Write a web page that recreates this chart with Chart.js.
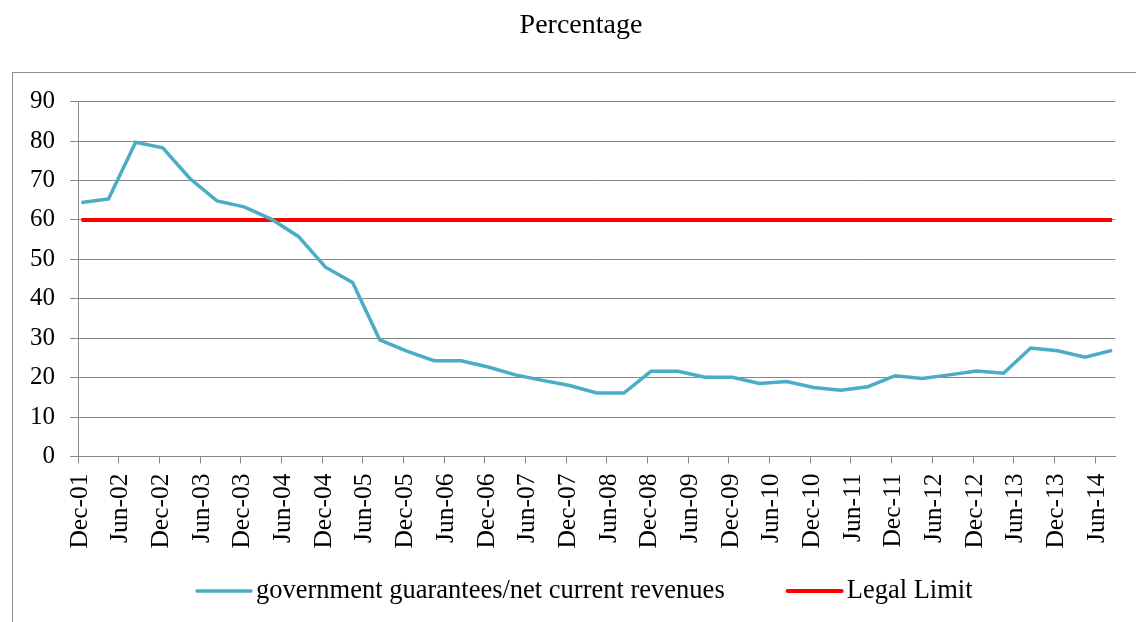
<!DOCTYPE html>
<html>
<head>
<meta charset="utf-8">
<script src="https://cdn.jsdelivr.net/npm/chart.js@4"></script>
<style>
  html, body { margin: 0; padding: 0; background: #fff; }
  #wrap { width: 1136px; height: 622px; }
</style>
</head>
<body>
<div id="wrap"><canvas id="miGrafico" width="1136" height="622"></canvas></div>
<script>
// dates of observations (every 4 months)
const dates = ['Dec-01','Apr-02','Aug-02','Dec-02','Apr-03','Aug-03','Dec-03','Apr-04','Aug-04','Dec-04',
  'Apr-05','Aug-05','Dec-05','Apr-06','Aug-06','Dec-06','Apr-07','Aug-07','Dec-07','Apr-08',
  'Aug-08','Dec-08','Apr-09','Aug-09','Dec-09','Apr-10','Aug-10','Dec-10','Apr-11','Aug-11',
  'Dec-11','Apr-12','Aug-12','Dec-12','Apr-13','Aug-13','Dec-13','Apr-14','Aug-14'];

const garantias = [64.4, 65.3, 79.7, 78.3, 70.5, 64.8, 63.3, 60.2, 55.8, 48.0,
  44.1, 29.6, 26.7, 24.3, 24.3, 22.7, 20.7, 19.3, 18.0, 16.1,
  16.1, 21.6, 21.6, 20.1, 20.1, 18.5, 19.0, 17.5, 16.8, 17.7,
  20.5, 19.8, 20.7, 21.7, 21.1, 27.5, 26.8, 25.2, 26.9];

const limiteLegal = [60, 60, 60, 60, 60, 60, 60, 60, 60, 60,
  60, 60, 60, 60, 60, 60, 60, 60, 60, 60,
  60, 60, 60, 60, 60, 60, 60, 60, 60, 60,
  60, 60, 60, 60, 60, 60, 60, 60, 60];

const tickLabels = ['Dec-01','Jun-02','Dec-02','Jun-03','Dec-03','Jun-04','Dec-04','Jun-05','Dec-05',
  'Jun-06','Dec-06','Jun-07','Dec-07','Jun-08','Dec-08','Jun-09','Dec-09','Jun-10','Dec-10',
  'Jun-11','Dec-11','Jun-12','Dec-12','Jun-13','Dec-13','Jun-14'];

const meses = ['Jan','Feb','Mar','Apr','May','Jun','Jul','Aug','Sep','Oct','Nov','Dec'];
// months counted from Dec-01
function mesIndex(s) {
  const [m, y] = s.split('-');
  return (2000 + Number(y) - 2001) * 12 + meses.indexOf(m) - 11;
}

const serif = '"Liberation Serif", "Times New Roman", serif';
const gris = '#878787';

const puntos1 = dates.map((d, i) => ({ x: mesIndex(d) + 0.5, y: garantias[i] }));
const puntos2 = dates.map((d, i) => ({ x: mesIndex(d) + 0.5, y: limiteLegal[i] }));
const tickMap = {};
tickLabels.forEach(t => { tickMap[mesIndex(t)] = t; });

// frame, title shift and a legend drawn like the Excel one
const marco = {
  id: 'marco',
  beforeDraw(chart) {
    const ctx = chart.ctx;
    ctx.save();
    ctx.strokeStyle = '#8f8f8f';
    ctx.lineWidth = 1;
    ctx.strokeRect(12.5, 72.5, 1300, 700);
    ctx.restore();
  },
  beforeLayout(chart) {
    const tb = chart.titleBlock;
    if (tb && !tb._movido) {
      const draw = tb.draw;
      tb.draw = function () {
        this.ctx.save();
        this.ctx.translate(15, 2);
        draw.apply(this, arguments);
        this.ctx.restore();
      };
      tb._movido = true;
    }
  },
  afterDraw(chart) {
    const ctx = chart.ctx;
    ctx.save();
    ctx.font = '26.5px ' + serif;
    ctx.textBaseline = 'middle';
    ctx.fillStyle = '#000';
    let x = 197;
    const y = 591;
    chart.data.datasets.forEach(ds => {
      ctx.strokeStyle = ds.borderColor;
      ctx.lineWidth = ds.borderWidth;
      ctx.lineCap = 'round';
      ctx.beginPath();
      ctx.moveTo(x, y);
      ctx.lineTo(x + 54, y);
      ctx.stroke();
      ctx.fillText(ds.label, x + 59, y);
      x += 59 + ctx.measureText(ds.label).width + 63;
    });
    ctx.restore();
  }
};

document.addEventListener('DOMContentLoaded', () => {
  const canvas = document.getElementById('miGrafico');
  new Chart(canvas.getContext('2d'), {
    type: 'line',
    data: {
      datasets: [{
        label: 'government guarantees/net current revenues',
        data: puntos1,
        borderColor: '#4BACC6',
        backgroundColor: '#4BACC6',
        borderWidth: 3.5,
        pointRadius: 0,
        tension: 0
      }, {
        label: 'Legal Limit',
        data: puntos2,
        borderColor: '#FF0000',
        backgroundColor: '#FF0000',
        borderWidth: 4,
        pointRadius: 0,
        tension: 0
      }]
    },
    options: {
      responsive: false,
      animation: false,
      layout: { padding: { left: 12, right: 16, top: 0, bottom: 74 } },
      plugins: {
        title: {
          display: true,
          text: 'Percentage',
          color: '#000',
          font: { family: serif, size: 28, weight: 'normal' },
          padding: { top: 7, bottom: 61 }
        },
        legend: { display: false },
        tooltip: { enabled: false }
      },
      scales: {
        x: {
          type: 'linear',
          min: 0,
          max: 153,
          afterBuildTicks: (scale) => {
            scale.ticks = tickLabels.map(t => ({ value: mesIndex(t) }));
          },
          afterFit: (scale) => { scale.height = 91.5; },
          grid: { drawOnChartArea: false, drawTicks: true, tickLength: 7, color: gris },
          border: { color: gris, width: 1 },
          ticks: {
            autoSkip: false,
            minRotation: 90,
            maxRotation: 90,
            padding: 10,
            labelOffset: 2,
            color: '#000',
            font: { family: serif, size: 25.5 },
            callback: (v) => tickMap[v] || ''
          }
        },
        y: {
          min: 0,
          max: 90,
          afterFit: (scale) => { scale.width = 66; },
          grid: { color: gris, tickLength: 8 },
          border: { color: gris, width: 1 },
          ticks: {
            stepSize: 10,
            padding: 15,
            color: '#000',
            font: { family: serif, size: 25 }
          }
        }
      }
    },
    plugins: [marco]
  });
});
</script>
</body>
</html>
